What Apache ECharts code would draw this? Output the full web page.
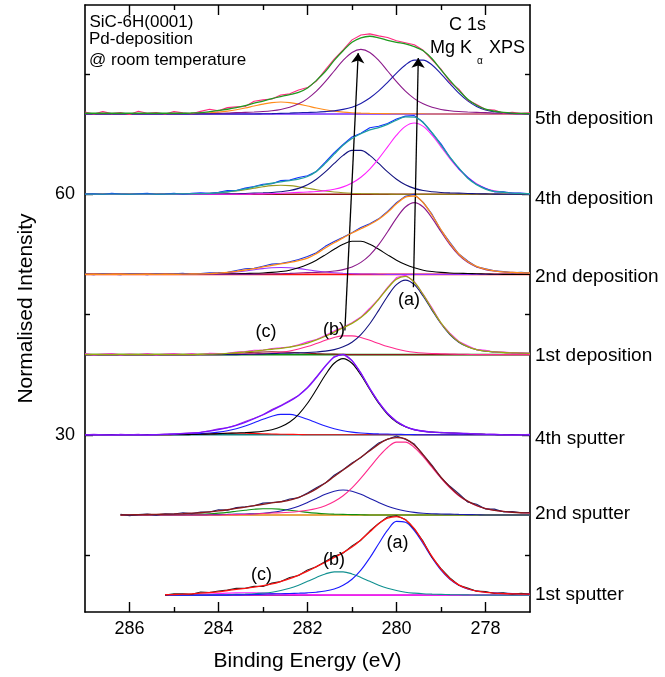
<!DOCTYPE html>
<html><head><meta charset="utf-8">
<script src="https://cdn.jsdelivr.net/npm/echarts@6/dist/echarts.min.js"></script>
<style>html,body{margin:0;padding:0;background:#fff}#c{width:665px;height:677px}</style>
</head><body><div id="c"></div>
<script>
// Binding energy grid (eV)
const E = [287,286.8,286.6,286.4,286.2,286,285.8,285.6,285.4,285.2,
 285,284.8,284.6,284.4,284.2,284,283.8,283.6,283.4,283.2,
 283,282.8,282.6,282.4,282.2,282,281.8,281.6,281.4,281.2,
 281,280.8,280.6,280.4,280.2,280,279.8,279.6,279.4,279.2,
 279,278.8,278.6,278.4,278.2,278,277.8,277.6,277.4,277.2,
 277];
const xMajor = [278,280,282,284,286];
const xMinor = [279,281,283,285];
const yMajor = [30,60];
const yMinor = [15,45,75];
const offsets = {s1:10,s2:20,s3:30,s4:40,s5:50,s6:60,s7:70};
const labels = ['1st sputter','2nd sputter','4th sputter','1st deposition','2nd deposition','4th deposition','5th deposition'];

// ---- 5th deposition ----
const d7_raw = [0.25,0,0.3,0.05,0.2,-0.05,0.35,0.1,0.2,0,
 0.3,0.15,0.03,0.33,0.6,0.4,0.8,0.9,0.95,1.6,
 1.77,1.87,2.38,2.52,3.0,3.3,4.1,5.5,6.85,8.0,
 9.25,9.85,10.0,9.75,9.55,9.15,8.9,8.65,7.95,6.75,
 5.6,4.0,3.1,1.75,1.2,0.57,0.5,0.1,0.22,0.08,
 0.16];
const d7_fit = [0.1,0.1,0.1,0.1,0.1,0.1,0.1,0.1,0.1,0.1,
 0.1,0.1,0.13,0.18,0.3,0.45,0.6,0.8,1.05,1.35,
 1.62,1.92,2.18,2.42,2.7,3.25,4.2,5.3,6.7,7.9,
 8.95,9.5,9.7,9.5,9.2,8.95,8.75,8.4,7.9,6.9,
 5.5,4.2,2.95,1.85,1.1,0.62,0.35,0.2,0.12,0.08,
 0.06];
const d7_orange = [0,0,0,0,0,0,0.03,0.03,0.03,0.04,
 0.05,0.06,0.08,0.11,0.16,0.24,0.36,0.53,0.75,1.0,
 1.24,1.43,1.5,1.43,1.24,1.0,0.75,0.53,0.36,0.24,
 0.16,0.11,0.08,0.06,0.05,0.04,0.03,0.03,0.03,0,
 0,0,0,0,0,0,0,0,0,0,
 0];
const d7_purple = [0,0,0,0,0,0,0,0,0,0,
 0,0,0,0.03,0.05,0.08,0.12,0.18,0.21,0.25,
 0.31,0.41,0.57,0.84,1.27,1.93,2.85,4.03,5.37,6.68,
 7.68,8.06,7.68,6.68,5.37,4.03,2.85,1.93,1.27,0.84,
 0.57,0.41,0.31,0.25,0.21,0.18,0.12,0.08,0.05,0.03,
 0];
const d7_blue = [0,0,0,0,0,0,0,0,0,0,
 0,0,0,0,0,0,0,0,0,0,
 0.03,0.05,0.08,0.12,0.17,0.2,0.23,0.3,0.4,0.58,
 0.86,1.33,2.0,2.89,3.96,5.11,6.12,6.73,6.73,6.12,
 5.0,3.8,2.6,1.65,0.95,0.5,0.28,0.15,0.08,0.04,
 0.02];

// ---- 4th deposition ----
const d6_raw = [0.02,0.07,-0.03,0.12,0.02,-0.03,0.07,0.12,-0.03,0.02,
 0.13,-0.01,0.11,0.18,0.12,0.25,0.46,0.46,0.76,0.97,
 1.25,1.32,1.7,1.76,2.09,2.31,2.85,4.0,5.2,6.2,
 7.15,7.6,8.29,8.47,8.82,9.38,9.74,9.81,8.97,7.62,
 6.28,4.61,3.18,2.1,1.2,0.7,0.3,0.3,0.15,0.15,
 0.06];
const d6_fit = [0.02,0.02,0.02,0.02,0.02,0.02,0.02,0.02,0.02,0.02,
 0.03,0.04,0.06,0.08,0.12,0.2,0.31,0.46,0.66,0.92,
 1.15,1.37,1.55,1.71,1.89,2.21,2.85,3.85,5.0,6.1,
 6.95,7.55,8.04,8.32,8.72,9.23,9.64,9.61,8.92,7.67,
 6.13,4.61,3.28,2.0,1.2,0.65,0.35,0.25,0.15,0.1,
 0.06];
const d6_magenta = [0,0,0,0,0,0,0,0,0,0,
 0,0,0,0,0,0,0,0,0,0.03,
 0.05,0.08,0.12,0.18,0.23,0.28,0.34,0.45,0.63,0.92,
 1.4,2.12,3.14,4.44,5.91,7.36,8.46,8.88,8.46,7.36,
 5.91,4.44,3.14,2.12,1.3,0.75,0.42,0.25,0.15,0.1,
 0.06];
const d6_navy = [0,0,0,0,0,0,0,0,0,0,
 0,0,0,0,0,0.02,0.04,0.06,0.1,0.14,
 0.17,0.22,0.31,0.46,0.73,1.18,1.87,2.78,3.84,4.84,
 5.47,5.47,4.84,3.84,2.78,1.87,1.18,0.73,0.46,0.31,
 0.22,0.17,0.14,0.1,0.06,0.04,0.02,0,0,0,
 0];
const d6_olive = [0,0,0,0,0,0,0,0,0,0,
 0.03,0.04,0.06,0.08,0.12,0.18,0.27,0.4,0.56,0.75,
 0.93,1.07,1.12,1.07,0.93,0.75,0.56,0.4,0.27,0.18,
 0.12,0.08,0.06,0.04,0.03,0,0,0,0,0,
 0,0,0,0,0,0,0,0,0,0,
 0];

// ---- 2nd deposition ----
const d5_raw = [0.07,-0.03,0.12,0.02,-0.03,0.12,0.07,-0.03,0.12,0.02,
 0.07,0.13,0,0.11,0.19,0.22,0.26,0.49,0.7,0.77,
 1.03,1.29,1.37,1.59,1.87,2.23,2.7,3.5,4.1,4.65,
 5.21,5.85,6.32,6.93,7.86,8.95,9.74,9.98,8.99,7.48,
 5.52,3.99,2.55,1.67,0.96,0.7,0.45,0.36,0.2,0.27,
 0.18];
const d5_fit = [0.02,0.02,0.02,0.02,0.02,0.02,0.02,0.02,0.02,0.02,
 0.02,0.03,0.05,0.06,0.09,0.17,0.26,0.39,0.55,0.72,
 0.93,1.14,1.32,1.49,1.72,2.03,2.6,3.3,3.95,4.55,
 5.16,5.7,6.22,6.88,7.76,8.8,9.64,9.78,8.94,7.38,
 5.57,3.89,2.55,1.62,1.01,0.65,0.45,0.31,0.25,0.22,
 0.18];
const d5_purple = [0,0,0,0,0,0,0,0,0,0,
 0,0,0,0,0,0,0,0,0,0,
 0.03,0.06,0.09,0.13,0.18,0.22,0.25,0.31,0.42,0.6,
 0.93,1.5,2.41,3.71,5.32,7.02,8.41,8.96,8.41,7.02,
 5.32,3.71,2.41,1.5,0.93,0.6,0.42,0.31,0.25,0.22,
 0.18];
const d5_black = [0,0,0,0,0,0,0,0,0,0,
 0,0,0,0,0,0.03,0.05,0.08,0.12,0.14,
 0.18,0.25,0.36,0.53,0.82,1.23,1.78,2.44,3.14,3.76,
 4.14,4.14,3.76,3.14,2.44,1.78,1.23,0.82,0.53,0.36,
 0.25,0.18,0.14,0.12,0.08,0.05,0.03,0,0,0,
 0];
const d5_violet = [0,0,0,0,0,0,0,0,0,0,
 0,0.03,0.05,0.06,0.09,0.14,0.21,0.31,0.43,0.58,
 0.72,0.83,0.87,0.83,0.72,0.58,0.43,0.31,0.21,0.14,
 0.09,0.06,0.05,0.03,0,0,0,0,0,0,
 0,0,0,0,0,0,0,0,0,0,
 0];

// ---- 1st deposition ----
const d4_raw = [0.12,-0.03,0.07,0.12,-0.03,0.07,0.02,0.12,-0.03,0.07,
 0.12,0.02,0.13,-0.01,0.16,0.13,0.15,0.33,0.39,0.54,
 0.55,0.77,0.84,0.94,1.24,1.59,1.88,2.39,2.96,3.4,
 3.99,4.68,5.78,6.95,8.38,9.61,9.9,9.12,7.53,5.81,
 3.9,2.68,1.65,1.1,0.62,0.53,0.33,0.31,0.22,0.24,
 0.16];
const d4_fit = [0.02,0.02,0.02,0.02,0.02,0.02,0.02,0.02,0.02,0.02,
 0.02,0.02,0.03,0.04,0.06,0.08,0.15,0.23,0.34,0.44,
 0.55,0.67,0.79,0.94,1.14,1.44,1.83,2.29,2.81,3.35,
 3.89,4.63,5.63,6.9,8.28,9.41,9.75,9.02,7.48,5.66,
 3.95,2.58,1.6,1.0,0.62,0.43,0.33,0.26,0.22,0.19,
 0.16];
const d4_navy = [0,0,0,0,0,0,0,0,0,0,
 0,0,0,0,0,0,0,0,0.03,0.05,
 0.08,0.12,0.16,0.19,0.22,0.26,0.33,0.43,0.62,0.97,
 1.55,2.5,3.85,5.52,7.28,8.72,9.29,8.72,7.28,5.52,
 3.85,2.5,1.55,0.97,0.62,0.43,0.33,0.26,0.22,0.19,
 0.16];
const d4_pink = [0,0,0,0,0,0,0,0,0,0,
 0,0,0,0,0,0,0.03,0.05,0.08,0.1,
 0.14,0.2,0.3,0.46,0.69,1.0,1.38,1.78,2.13,2.34,
 2.34,2.13,1.78,1.38,1.0,0.69,0.46,0.3,0.2,0.14,
 0.1,0.08,0.05,0.03,0,0,0,0,0,0,
 0];
const d4_darkred = [0,0,0,0,0,0,0,0,0,0,
 0,0,0,0.04,0.06,0.08,0.12,0.18,0.23,0.29,
 0.33,0.35,0.33,0.29,0.23,0.18,0.12,0.08,0.06,0.04,
 0,0,0,0,0,0,0,0,0,0,
 0,0,0,0,0,0,0,0,0,0,
 0];

// ---- 4th sputter ----
const s3_raw = [0,0.05,0,-0.05,0.05,0,0.05,-0.05,0.02,0.09,
 0.1,0.19,0.26,0.31,0.5,0.74,0.88,1.23,1.65,2.05,
 2.5,3.15,3.65,4.28,4.91,5.91,7.24,8.59,9.77,10.05,
 9.25,7.72,5.74,4.09,2.65,1.7,1.03,0.61,0.49,0.33,
 0.32,0.23,0.14,0.19,0.1,0.06,0.08,0,-0.05,0,
 0.05];
const s3_fit = [0,0,0,0,0,0,0,0,0.02,0.04,
 0.1,0.14,0.21,0.31,0.45,0.64,0.88,1.18,1.55,2.0,
 2.5,3.05,3.6,4.18,4.91,5.86,7.14,8.54,9.67,10.0,
 9.25,7.67,5.79,4.04,2.65,1.65,1.03,0.66,0.44,0.33,
 0.27,0.23,0.19,0.14,0.1,0.06,0.03,0,0,0,
 0];
const s3_black = [0,0,0,0,0,0,0,0,0,0,
 0,0,0.03,0.06,0.1,0.14,0.19,0.23,0.27,0.33,
 0.44,0.64,0.99,1.59,2.56,3.93,5.64,7.45,8.92,9.5,
 8.92,7.45,5.64,3.93,2.56,1.59,0.99,0.64,0.44,0.33,
 0.27,0.23,0.19,0.14,0.1,0.06,0.03,0,0,0,
 0];
const s3_blue = [0,0,0,0,0,0,0,0,0.02,0.04,
 0.06,0.09,0.11,0.15,0.22,0.33,0.5,0.75,1.09,1.5,
 1.93,2.31,2.54,2.54,2.31,1.93,1.5,1.09,0.75,0.5,
 0.33,0.22,0.15,0.11,0.09,0.06,0.04,0.02,0,0,
 0,0,0,0,0,0,0,0,0,0,
 0];
const s3_red = [0,0,0,0,0,0,0,0,0,0,
 0.04,0.05,0.07,0.1,0.13,0.17,0.19,0.2,0.19,0.17,
 0.13,0.1,0.07,0.05,0.04,0,0,0,0,0,
 0,0,0,0,0,0,0,0,0,0,
 0,0,0,0,0,0,0,0,0,0,
 0];

// ---- 2nd sputter ----
const s2_raw = [null,null,null,null,0.1,-0.08,0.04,0.11,-0.02,0.15,
 0.13,0.27,0.17,0.38,0.38,0.65,0.6,0.92,1.03,1.16,
 1.48,1.55,1.65,2.0,2.15,2.75,3.4,3.98,4.95,5.65,
 6.5,7.15,8.1,8.99,9.45,9.85,9.45,8.84,7.5,6.19,
 4.66,3.58,2.67,1.62,1.33,0.75,0.73,0.39,0.44,0.28,
 0.3];
const s2_fit = [null,null,null,null,0,0.02,0.04,0.06,0.08,0.1,
 0.13,0.17,0.22,0.28,0.38,0.5,0.65,0.82,0.98,1.16,
 1.33,1.5,1.65,1.85,2.2,2.65,3.25,3.98,4.8,5.6,
 6.4,7.2,8.0,8.84,9.45,9.65,9.5,8.74,7.5,6.09,
 4.71,3.48,2.47,1.72,1.18,0.8,0.58,0.44,0.34,0.28,
 0.25];
const s2_pink = [null,null,null,null,0,0,0,0,0,0,
 0,0,0,0,0,0,0.03,0.05,0.08,0.12,
 0.18,0.25,0.28,0.34,0.44,0.58,0.8,1.15,1.67,2.4,
 3.38,4.59,5.93,7.28,8.42,9.08,9.08,8.42,7.28,5.93,
 4.59,3.38,2.4,1.67,1.15,0.8,0.58,0.44,0.34,0.28,
 0.25];
const s2_navy = [null,null,null,null,0,0,0,0,0,0,
 0,0,0,0,0.03,0.05,0.07,0.1,0.12,0.16,
 0.22,0.32,0.49,0.74,1.1,1.56,2.07,2.58,2.96,3.11,
 2.96,2.58,2.07,1.56,1.1,0.74,0.49,0.32,0.22,0.16,
 0.12,0.1,0.07,0.05,0.03,0,0,0,0,0,
 0];
const s2_green = [null,null,null,null,0,0,0,0,0,0,
 0.03,0.05,0.07,0.1,0.15,0.23,0.33,0.46,0.59,0.71,
 0.78,0.78,0.71,0.59,0.46,0.33,0.23,0.15,0.1,0.07,
 0.05,0.03,0,0,0,0,0,0,0,0,
 0,0,0,0,0,0,0,0,0,0,
 0];

// ---- 1st sputter ----
const s1_raw = [null,null,null,null,null,null,null,null,null,0,
 0.18,0.17,0.12,0.4,0.33,0.52,0.63,0.87,0.85,1.1,
 1.08,1.5,1.7,2.2,2.45,3.15,3.55,4.2,4.85,5.25,
 6.15,6.85,8.0,8.95,9.75,9.9,9.45,8.25,6.7,4.7,
 3.3,2.15,1.23,0.9,0.5,0.45,0.21,0.3,0.11,0.24,
 0.12];
const s1_fit = [null,null,null,null,null,null,null,null,null,0.05,
 0.08,0.12,0.17,0.25,0.33,0.42,0.58,0.72,0.85,1.0,
 1.18,1.4,1.7,2.05,2.5,3.0,3.55,4.1,4.7,5.3,
 6.0,6.9,7.9,8.9,9.6,9.8,9.4,8.3,6.6,4.8,
 3.25,2.05,1.28,0.8,0.5,0.35,0.26,0.2,0.16,0.14,
 0.12];
const s1_blue = [null,null,null,null,null,null,null,null,null,0,
 0,0,0,0,0,0,0,0.03,0.05,0.08,
 0.12,0.16,0.18,0.2,0.24,0.29,0.37,0.51,0.77,1.23,
 1.98,3.12,4.65,6.41,8.1,9.2,9.1,8.05,6.41,4.65,
 3.12,1.98,1.23,0.77,0.51,0.37,0.29,0.24,0.2,0.18,
 0.16];
const s1_teal = [null,null,null,null,null,null,null,null,null,0,
 0,0,0,0,0.03,0.05,0.07,0.1,0.13,0.17,
 0.25,0.37,0.58,0.86,1.25,1.72,2.21,2.65,2.91,2.91,
 2.65,2.21,1.72,1.25,0.86,0.58,0.37,0.25,0.17,0.13,
 0.1,0.07,0.05,0.03,0,0,0,0,0,0,
 0];
const s1_magenta = [null,null,null,null,null,null,null,null,null,0,
 0.03,0.05,0.07,0.11,0.15,0.2,0.25,0.29,0.3,0.29,
 0.25,0.2,0.15,0.11,0.07,0.05,0.03,0,0,0,
 0,0,0,0,0,0,0,0,0,0,
 0,0,0,0,0,0,0,0,0,0,
 0];

// Arrow end points (binding energy, intensity)
const arrowB = [[281.16,43.0],[280.86,77.6]];
const arrowA = [[279.62,48.4],[279.51,77.0]];

const FONT = '"Liberation Sans", Arial, Helvetica, sans-serif';

function pts(vals, off){
  const out = [];
  for (let i=0;i<E.length;i++){ if (vals[i]!==null && vals[i]!==undefined) out.push([E[i], vals[i]+off]); }
  return out;
}
function ser(vals, off, color, width, smooth, z){
  return {type:'line', data:pts(vals,off), symbol:'none', showSymbol:false, smooth:smooth, silent:true,
    animation:false, lineStyle:{color:color, width:width}, z:z};
}
function base(x0, off, color, width, z){
  return {type:'line', data:[[x0,off],[277,off]], symbol:'none', showSymbol:false, silent:true, animation:false,
    lineStyle:{color:color, width:width}, z:z};
}
const SM = 0.35;
const series = [
  base(287, offsets.s7, '#7a2cff', 1.6, 2),
  ser(d7_orange, offsets.s7, '#ff8c1a', 1.1, SM, 3),
  ser(d7_purple, offsets.s7, '#8b1a8b', 1.1, SM, 3),
  ser(d7_blue, offsets.s7, '#1c1caa', 1.1, SM, 3),
  ser(d7_raw, offsets.s7, '#ff2a80', 1.1, false, 4),
  ser(d7_fit, offsets.s7, '#1f9a1f', 1.3, SM, 5),
  base(287, offsets.s6, '#8b1010', 1.6, 2),
  ser(d6_olive, offsets.s6, '#9a9a20', 1.1, SM, 3),
  ser(d6_navy, offsets.s6, '#141480', 1.1, SM, 3),
  ser(d6_magenta, offsets.s6, '#ff20ff', 1.1, SM, 3),
  ser(d6_raw, offsets.s6, '#1030ff', 1.1, false, 4),
  ser(d6_fit, offsets.s6, '#20a0a0', 1.3, SM, 5),
  base(287, offsets.s5, '#ff1010', 1.6, 2),
  ser(d5_violet, offsets.s5, '#9b30ff', 1.1, SM, 3),
  ser(d5_black, offsets.s5, '#000000', 1.1, SM, 3),
  ser(d5_purple, offsets.s5, '#8b1a8b', 1.1, SM, 3),
  ser(d5_raw, offsets.s5, '#1a30e0', 1.1, false, 4),
  ser(d5_fit, offsets.s5, '#ff8c1a', 1.3, SM, 5),
  base(287, offsets.s4, '#109010', 1.6, 2),
  ser(d4_darkred, offsets.s4, '#8b1a1a', 1.1, SM, 3),
  ser(d4_pink, offsets.s4, '#ff2a8c', 1.1, SM, 3),
  ser(d4_navy, offsets.s4, '#141480', 1.1, SM, 3),
  ser(d4_raw, offsets.s4, '#ff20ff', 1.1, false, 4),
  ser(d4_fit, offsets.s4, '#9aaa10', 1.3, SM, 5),
  base(287, offsets.s3, '#108080', 1.6, 2),
  ser(s3_red, offsets.s3, '#ff1010', 1.1, SM, 3),
  ser(s3_blue, offsets.s3, '#1a1aff', 1.1, SM, 3),
  ser(s3_black, offsets.s3, '#000000', 1.1, SM, 3),
  ser(s3_raw, offsets.s3, '#a030e0', 1.1, false, 4),
  ser(s3_fit, offsets.s3, '#7a10ff', 1.3, SM, 5),
  base(286.2, offsets.s2, '#e08a10', 1.6, 2),
  ser(s2_green, offsets.s2, '#109010', 1.1, SM, 3),
  ser(s2_navy, offsets.s2, '#1c1caa', 1.1, SM, 3),
  ser(s2_pink, offsets.s2, '#ff2a8c', 1.1, SM, 3),
  ser(s2_raw, offsets.s2, '#202070', 1.1, false, 4),
  ser(s2_fit, offsets.s2, '#8b1a1a', 1.3, SM, 5),
  base(285.2, offsets.s1, '#c020c0', 1.6, 2),
  ser(s1_magenta, offsets.s1, '#ff20ff', 1.1, SM, 3),
  ser(s1_teal, offsets.s1, '#109090', 1.1, SM, 3),
  ser(s1_blue, offsets.s1, '#1a1aff', 1.1, SM, 3),
  ser(s1_raw, offsets.s1, '#202020', 1.1, false, 4),
  ser(s1_fit, offsets.s1, '#ff1010', 1.3, SM, 5),
  {type:'line', data:[], silent:true, animation:false, z:6,
   markLine:{silent:true, animation:false, symbol:['none','arrow'], symbolSize:10, label:{show:false},
     lineStyle:{color:'#000', width:1.3, type:'solid'},
     data:[[{coord:arrowB[0]},{coord:arrowB[1]}],[{coord:arrowA[0]},{coord:arrowA[1]}]]}}
];

const tickStyle = {color:'#000', width:1.4};
const xBase = {type:'value', min:277, max:287, inverse:true, splitLine:{show:false}};
const yBase = {type:'value', min:7.9, max:83.6, splitLine:{show:false}};
const option = {
  animation:false,
  backgroundColor:'#fff',
  grid:{left:85, right:135, top:5, bottom:64, containLabel:false},
  xAxis:[
    Object.assign({}, xBase, {position:'bottom', axisLine:{show:true,onZero:false,lineStyle:{color:'#000',width:1.6}},
      axisTick:{show:true,inside:true,length:10,customValues:xMajor,lineStyle:tickStyle},
      axisLabel:{show:true,customValues:xMajor,margin:8,color:'#000',fontSize:18,fontFamily:FONT},
      name:'Binding Energy (eV)', nameLocation:'middle', nameGap:39,
      nameTextStyle:{fontSize:21,color:'#000',fontFamily:FONT}}),
    Object.assign({}, xBase, {position:'bottom', axisLine:{show:false,onZero:false},
      axisTick:{show:true,inside:true,length:5,customValues:xMinor,lineStyle:tickStyle}, axisLabel:{show:false}}),
    Object.assign({}, xBase, {position:'top', axisLine:{show:true,onZero:false,lineStyle:{color:'#000',width:1.6}},
      axisTick:{show:true,inside:true,length:10,customValues:xMajor,lineStyle:tickStyle}, axisLabel:{show:false}}),
    Object.assign({}, xBase, {position:'top', axisLine:{show:false,onZero:false},
      axisTick:{show:true,inside:true,length:5,customValues:xMinor,lineStyle:tickStyle}, axisLabel:{show:false}})
  ],
  yAxis:[
    Object.assign({}, yBase, {position:'left', axisLine:{show:true,onZero:false,lineStyle:{color:'#000',width:1.6}},
      axisTick:{show:true,inside:true,length:8,customValues:yMajor,lineStyle:tickStyle},
      axisLabel:{show:true,customValues:yMajor,margin:10,color:'#000',fontSize:18,fontFamily:FONT},
      name:'Normalised Intensity', nameLocation:'middle', nameGap:48,
      nameTextStyle:{fontSize:21,color:'#000',fontFamily:FONT}}),
    Object.assign({}, yBase, {position:'left', axisLine:{show:false,onZero:false},
      axisTick:{show:true,inside:true,length:5,customValues:yMinor,lineStyle:tickStyle}, axisLabel:{show:false}}),
    Object.assign({}, yBase, {position:'right', axisLine:{show:true,onZero:false,lineStyle:{color:'#000',width:1.6}},
      axisTick:{show:true,inside:true,length:8,customValues:yMajor,lineStyle:tickStyle}, axisLabel:{show:false}}),
    Object.assign({}, yBase, {position:'right', axisLine:{show:false,onZero:false},
      axisTick:{show:true,inside:true,length:5,customValues:yMinor,lineStyle:tickStyle}, axisLabel:{show:false}})
  ],
  series: series,
  graphic:[]
};

function txt(s, x, y, size, align){
  return {type:'text', x:x, y:y, silent:true, z:100,
    style:{text:s, fill:'#000', font: size+'px '+FONT, align:align||'left', verticalAlign:'middle'}};
}
const labelY = [595, 513.7, 438.3, 355.8, 276.3, 199, 119.2];
const g = [];
labels.forEach((s,i)=>g.push(txt(s, 535, labelY[i], 19, 'left')));
g.push(txt('SiC-6H(0001)', 89.5, 22.5, 17));
g.push(txt('Pd-deposition', 89, 39.2, 17));
g.push(txt('@ room temperature', 89, 60.8, 17));
g.push(txt('C 1s', 467.5, 25, 18, 'center'));
g.push(txt('Mg K', 472, 48.3, 18, 'right'));
g.push(txt('\u03b1', 480, 61.5, 10, 'center'));
g.push(txt('XPS', 489, 48.3, 18, 'left'));
g.push(txt('(c)', 266, 332, 18, 'center'));
g.push(txt('(b)', 334, 330, 18, 'center'));
g.push(txt('(a)', 409, 300, 18, 'center'));
g.push(txt('(a)', 397.5, 543, 18, 'center'));
g.push(txt('(b)', 334, 560, 18, 'center'));
g.push(txt('(c)', 261.5, 575, 18, 'center'));
option.graphic = g;

const chart = echarts.init(document.getElementById('c'), null, {renderer:'canvas'});
chart.setOption(option);
</script></body></html>
